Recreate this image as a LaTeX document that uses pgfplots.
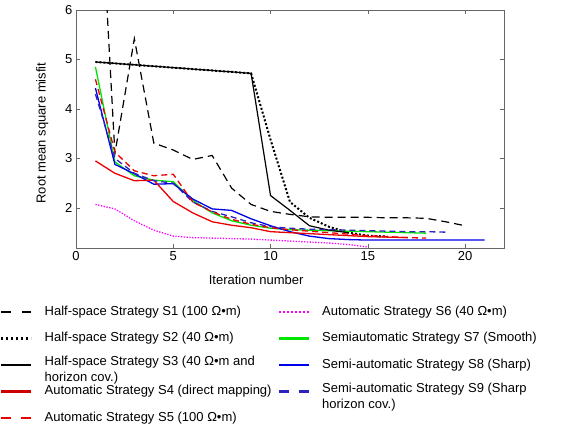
\documentclass[border=0pt]{standalone}
\usepackage{pgfplots}
\pgfplotsset{compat=1.18}
\usepackage{fontspec}
\setmainfont{Liberation Sans}
\definecolor{cgreen}{RGB}{0,230,0}
\definecolor{cblue}{RGB}{0,0,235}
\definecolor{cindigo}{RGB}{45,35,190}
\definecolor{cmag}{RGB}{255,0,255}
\definecolor{cred}{RGB}{235,0,0}
\newcommand{\fs}{\fontsize{13}{16}\selectfont}
\newcommand{\cone}[1]{\makebox[221pt][l]{#1}}
\newcommand{\two}[2]{\smash{\raisebox{2.5pt}{\begin{tabular}[t]{@{}l@{}}#1\\#2\end{tabular}}}}
\begin{document}
\begin{tikzpicture}
\useasboundingbox (-76pt,-177pt) rectangle (492pt,248pt);
\begin{axis}[
  scale only axis, width=428pt, height=238pt,
  xmin=0, xmax=22, ymin=1.19, ymax=6,
  xtick={0,5,10,15,20}, ytick={2,3,4,5,6},
  tick align=inside, major tick length=4pt,
  axis line style={black!60}, tick style={black!60},
  tick label style={font=\fs},
  /pgf/number format/assume math mode=true,
  xlabel={Iteration number}, ylabel={Root mean square misfit},
  label style={font=\fs},
  xlabel style={at={(axis description cs:0.421,-0.134)}, anchor=center},
  ylabel style={at={(axis description cs:-0.079,0.483)}, anchor=center},
  legend columns=2,
  legend cell align=left,
  legend style={draw=none, fill=none, inner sep=0pt,
    at={(axis description cs:-0.1776,-0.2426)}, anchor=north west,
    font=\fs, row sep=14pt, column sep=12pt,
    nodes={inner sep=0pt, text height=9.5pt, text depth=3pt}},
  legend image code/.code={\draw[#1, line width=2.5pt] (0pt,0pt) -- (30pt,0pt);},
]
% S1
\addplot[black, line width=1.2pt, dash pattern=on 8pt off 5pt,
  legend image post style={dash pattern=on 10pt off 11pt}] coordinates {
(1,10.3) (2,3.1) (3,5.42) (4,3.31) (5,3.17) (6,2.98) (7,3.06) (8,2.4) (9,2.07) (10,1.93) (11,1.87) (12,1.82) (13,1.81) (14,1.81) (15,1.81) (16,1.8) (17,1.8) (18,1.79) (19,1.72) (20,1.64)};
\addlegendentry{\cone{Half-space Strategy S1 (100 Ω•m)}}
% S6
\addplot[cmag, line width=1.3pt, dash pattern=on 1.3pt off 1.5pt,
  legend image post style={dash pattern=on 2pt off 2pt}] coordinates {
(1,2.07) (2,1.98) (3,1.74) (4,1.55) (5,1.43) (6,1.40) (7,1.39) (8,1.38) (9,1.37) (10,1.35) (11,1.33) (12,1.31) (13,1.29) (14,1.26) (15,1.21)};
\addlegendentry{Automatic Strategy S6 (40 Ω•m)}
% S2
\addplot[black, line width=2pt, dash pattern=on 2pt off 2pt,
  legend image post style={dash pattern=on 2pt off 3pt}] coordinates {
(1,4.95) (9,4.72) (10,3.38) (11,2.12) (12,1.8) (13,1.62) (14,1.5) (15,1.44) (16,1.42)};
\addlegendentry{\cone{Half-space Strategy S2 (40 Ω•m)}}
% S7
\addplot[cgreen, line width=1.3pt] coordinates {
(1,4.85) (2,2.93) (3,2.65) (4,2.56) (5,2.53) (6,2.15) (7,1.9) (8,1.74) (9,1.65) (10,1.59) (11,1.56) (12,1.55) (13,1.54) (14,1.53) (15,1.52) (16,1.51) (17,1.5) (18,1.49)};
\addlegendentry{Semiautomatic Strategy S7 (Smooth)}
% S3
\addplot[black, line width=1.2pt] coordinates {
(1,4.95) (9,4.72) (10,2.25) (11,1.95) (12,1.64) (13,1.55) (14,1.5)};
\addlegendentry{\two{Half-space Strategy S3 (40 Ω•m and}{horizon cov.)}}
% S8
\addplot[cblue, line width=1.3pt] coordinates {
(1,4.42) (2,2.88) (3,2.69) (4,2.48) (5,2.49) (6,2.18) (7,1.98) (8,1.95) (9,1.78) (10,1.64) (11,1.52) (12,1.43) (13,1.38) (14,1.36) (15,1.35) (16,1.35) (17,1.35) (18,1.35) (19,1.35) (20,1.35) (21,1.35)};
\addlegendentry{Semi-automatic Strategy S8 (Sharp)}
% S4
\addplot[cred, line width=1.3pt, legend image post style={color=red!80!black}] coordinates {
(1,2.95) (2,2.7) (3,2.55) (4,2.56) (5,2.13) (6,1.9) (7,1.72) (8,1.65) (9,1.6) (10,1.52) (11,1.5) (12,1.48) (13,1.46) (14,1.44) (15,1.42) (16,1.41) (17,1.4)};
\addlegendentry{\cone{Automatic Strategy S4 (direct mapping)}}
% S9
\addplot[cindigo, line width=1.3pt, dash pattern=on 6pt off 4pt,
  legend image post style={dash pattern=on 10pt off 10pt}] coordinates {
(1,4.3) (2,3.0) (3,2.7) (4,2.55) (5,2.5) (6,2.12) (7,1.93) (8,1.82) (9,1.7) (10,1.62) (11,1.59) (12,1.57) (13,1.56) (14,1.55) (15,1.54) (16,1.53) (17,1.52) (18,1.52) (19,1.51)};
\addlegendentry{\two{Semi-automatic Strategy S9 (Sharp}{horizon cov.)}}
% S5
\addplot[cred, line width=1.3pt, dash pattern=on 6pt off 4pt,
  legend image post style={dash pattern=on 10pt off 10pt}] coordinates {
(1,4.6) (2,3.13) (3,2.75) (4,2.65) (5,2.68) (6,2.12) (7,1.92) (8,1.77) (9,1.67) (10,1.6) (11,1.56) (12,1.53) (13,1.5) (14,1.47) (15,1.44) (16,1.42) (17,1.4) (18,1.39)};
\addlegendentry{\cone{Automatic Strategy S5 (100 Ω•m)}}
\end{axis}
\end{tikzpicture}
\end{document}
